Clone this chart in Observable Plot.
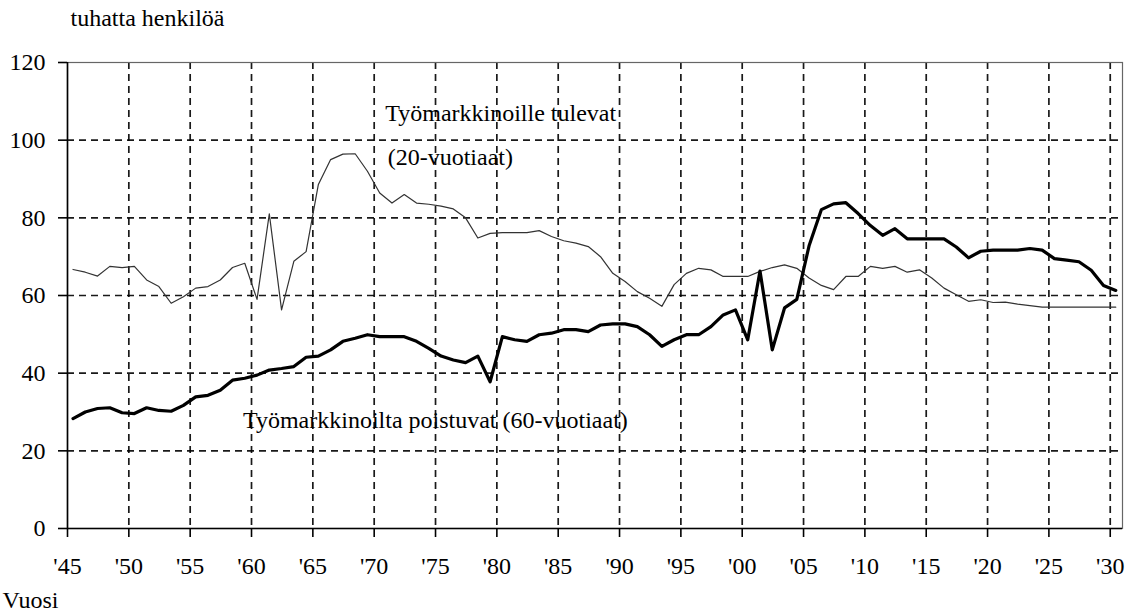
<!DOCTYPE html>
<html>
<head>
<meta charset="utf-8">
<script src="https://cdn.jsdelivr.net/npm/d3@7"></script>
<script src="https://cdn.jsdelivr.net/npm/@observablehq/plot@0.6"></script>
<style>
  html, body { margin: 0; padding: 0; background: #fff; }
  #chart svg { display: block; }
  #chart svg text { font-family: 'Liberation Serif', 'Times New Roman', serif; }
</style>
</head>
<body>
<div id="chart"></div>
<script>
const years = d3.range(1945, 2031);
const entrants = [
  66.7, 66.0, 65.0, 67.5, 67.2, 67.5, 64.0, 62.3, 58.0, 59.7,
  61.9, 62.3, 64.0, 67.2, 68.3, 59.0, 81.0, 56.3, 68.8, 71.3,
  88.6, 95.0, 96.4, 96.5, 92.0, 86.4, 83.8, 86.0, 83.8, 83.5,
  83.0, 82.3, 80.0, 74.8, 76.0, 76.2, 76.2, 76.2, 76.7, 75.2,
  74.1, 73.5, 72.6, 70.0, 65.7, 63.6, 61.0, 59.3, 57.2, 62.8,
  65.7, 67.0, 66.6, 64.9, 64.9, 64.9, 66.2, 67.2, 67.9, 67.0,
  64.5, 62.6, 61.5, 64.9, 64.9, 67.5, 67.0, 67.5, 66.0, 66.6,
  64.5, 61.9, 60.2, 58.5, 58.9, 58.2, 58.3, 57.8, 57.4, 57.0,
  57.0, 57.0, 57.0, 57.0, 57.0, 57.0
];
const leavers = [
  28.3, 30.0, 30.9, 31.1, 29.8, 29.6, 31.1, 30.4, 30.2, 31.7,
  33.9, 34.3, 35.6, 38.2, 38.7, 39.5, 40.8, 41.2, 41.7, 44.1,
  44.4, 46.0, 48.2, 49.0, 49.9, 49.4, 49.4, 49.4, 48.2, 46.4,
  44.4, 43.4, 42.7, 44.4, 37.8, 49.4, 48.6, 48.2, 49.9, 50.3,
  51.2, 51.2, 50.7, 52.4, 52.7, 52.7, 52.0, 49.9, 46.9, 48.6,
  49.9, 49.9, 52.0, 55.0, 56.3, 48.6, 66.3, 46.0, 56.8, 59.0,
  72.8, 82.1, 83.6, 83.9, 81.1, 78.0, 75.5, 77.2, 74.6, 74.6,
  74.6, 74.6, 72.5, 69.7, 71.4, 71.7, 71.7, 71.7, 72.1, 71.7,
  69.5, 69.1, 68.7, 66.5, 62.6, 61.3
];
const xTicks = d3.range(1945, 2031, 5);
const yTicks = [0, 20, 40, 60, 80, 100, 120];
const yUnit = "tuhatta henkilöä";
const xName = "Vuosi";
const labelEntrants1 = "Työmarkkinoille tulevat";
const labelEntrants2 = "(20-vuotiaat)";
const labelLeavers = "Työmarkkinoilta poistuvat (60-vuotiaat)";

const rows = years.map((year, i) => ({year, entrants: entrants[i], leavers: leavers[i]}));
const annotations = [
  {year: 1970.9, value: 106.8, text: labelEntrants1},
  {year: 1971.1, value: 95.5, text: labelEntrants2},
  {year: 1959.3, value: 27.8, text: labelLeavers}
];

const font = "'Liberation Serif', 'Times New Roman', serif";
const chart = Plot.plot({
  width: 1132,
  height: 613,
  marginLeft: 67,
  marginRight: 10,
  marginTop: 62,
  marginBottom: 85,
  style: {fontFamily: font, background: "#fff", color: "#000"},
  x: {domain: [1945, 2031]},
  y: {domain: [0, 120]},
  marks: [
    Plot.gridY(yTicks.filter(d => d > 0 && d < 120), {stroke: "#000", strokeOpacity: 0.9, strokeWidth: 1.7, strokeDasharray: "7,5"}),
    Plot.gridX(xTicks.filter(d => d > 1945), {stroke: "#000", strokeOpacity: 0.9, strokeWidth: 1.7, strokeDasharray: "7,5"}),
    Plot.frame({stroke: "#666", strokeWidth: 1.2}),
    Plot.ruleY([0], {stroke: "#000", strokeWidth: 1.6}),
    Plot.ruleX([1945], {stroke: "#000", strokeWidth: 1.6}),
    Plot.lineY(rows, {x: d => d.year + 0.45, y: "entrants", stroke: "#333", strokeWidth: 1.2}),
    Plot.lineY(rows, {x: d => d.year + 0.45, y: "leavers", stroke: "#000", strokeWidth: 3.2, strokeLinejoin: "round"}),
    Plot.text(annotations, {x: "year", y: "value", text: "text", textAnchor: "start", fontSize: 24, fill: "#000", fontFamily: font}),
    Plot.axisY({ticks: yTicks, tickSize: 9, tickPadding: 13, fontSize: 24, fontFamily: font, tickFormat: d => String(d), stroke: "#000", strokeWidth: 1.6}),
    Plot.axisX({ticks: xTicks, tickSize: 9, tickPadding: 19, fontSize: 24, fontFamily: font, tickFormat: d => "'" + String(d).slice(2), stroke: "#000", strokeWidth: 1.6, label: null}),
    Plot.text([yUnit], {frameAnchor: "top-left", dx: 3, dy: -44, lineAnchor: "middle", fontSize: 24, textAnchor: "start", fill: "#000", fontFamily: font}),
    Plot.text([xName], {frameAnchor: "bottom-left", dx: -65, dy: 72, lineAnchor: "middle", fontSize: 24, textAnchor: "start", fill: "#000", fontFamily: font})
  ]
});
document.getElementById("chart").appendChild(chart);
</script>
</body>
</html>
